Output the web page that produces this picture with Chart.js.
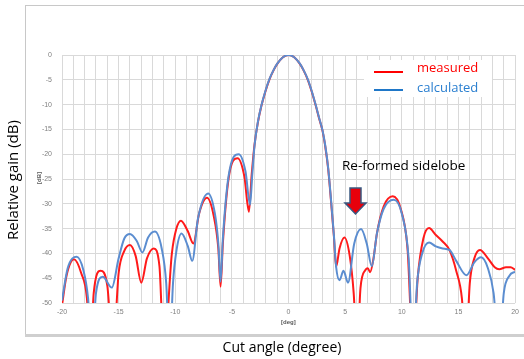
<!DOCTYPE html>
<html>
<head>
<meta charset="utf-8">
<script src="https://cdn.jsdelivr.net/npm/chart.js@4.4.0/dist/chart.umd.min.js"></script>
<style>
   html, body { margin: 0; padding: 0; background: #fff; }
</style>
</head>
<body>
<canvas id="myChart" width="524" height="359"></canvas>
<script>
//measured pattern (red), angle in degree and relative gain in dB
var measuredAngle = [-20, -19.6, -18.94, -18.3, -17.8, -17.5, -17.2, -16.6, -16.0, -15.5, -15.0, -14.5, -14.0, -13.5, -13.0, -12.5, -11.9, -11.4, -11.0, -10.3, -9.9, -9.5, -8.9, -8.4, -7.9, -7.2, -6.6, -6.2, -6.0, -5.8, -5.3, -4.5, -3.9, -3.5, -3.25, -3.0, -2.7, -2.4, -2.05, -1.7, -1.35, -1.0, -0.5, 0, 0.5, 1.0, 1.35, 1.7, 2.05, 2.4, 2.7, 3.0, 3.25, 3.5, 3.75, 4.0, 4.2, 4.5, 4.93, 5.4, 5.75, 6.05, 6.35, 6.8, 7.0, 7.2, 7.5, 7.8, 8.4, 9.2, 9.9, 10.5, 11.0, 11.4, 11.9, 12.4, 13.0, 13.6, 14.2, 14.8, 15.3, 15.65, 16.0, 16.4, 16.9, 17.6, 18.2, 18.6, 19.2, 19.6, 20];
var measuredGain = [-50.5, -44.5, -41.2, -44, -49, -60, -48, -43.5, -46.5, -60, -44, -39.5, -38.3, -40.5, -45.9, -41, -39.0, -42.5, -60, -40, -35, -33.4, -35.5, -38.0, -32, -28.8, -32.5, -39, -46.7, -38, -25, -20.8, -24.5, -31.6, -24, -18, -13.5, -10.3, -7.4, -5, -3.2, -1.8, -0.45, 0, -0.45, -1.8, -3.2, -5, -7.4, -10.2, -12.8, -15.3, -18.6, -23, -29.5, -36.5, -42.7, -39, -36.8, -40.5, -48, -60, -47, -43.3, -43.0, -43.8, -41, -36, -30.5, -28.5, -31, -39, -60, -45, -37, -34.9, -36.3, -37.6, -39.3, -43.5, -49, -60, -46, -41, -39.3, -41, -42.8, -43.2, -42.8, -42.8, -43.3];

//calculated pattern (blue)
var calculatedAngle = [-20, -19.5, -18.7, -18.1, -17.7, -17.35, -17.0, -16.4, -15.6, -15.0, -14.5, -14.0, -13.4, -12.9, -12.4, -11.8, -11.2, -10.8, -10.5, -10.2, -9.9, -9.45, -8.9, -8.5, -8.0, -7.1, -6.5, -6.2, -6.0, -5.8, -5.3, -4.4, -3.8, -3.4, -3.2, -3.0, -2.7, -2.4, -2.05, -1.7, -1.35, -1.0, -0.5, 0, 0.5, 1.0, 1.35, 1.7, 2.05, 2.4, 2.7, 3.0, 3.25, 3.5, 3.75, 4.0, 4.2, 4.5, 4.85, 5.25, 5.8, 6.4, 6.9, 7.35, 7.8, 8.4, 9.3, 10.0, 10.6, 11.0, 11.35, 11.8, 12.4, 13.0, 13.6, 14.2, 14.8, 15.7, 16.4, 17.0, 17.6, 18.1, 18.6, 19.0, 19.5, 20];
var calculatedGain = [-49.5, -43, -40.7, -43.5, -49, -60, -48, -44.7, -46.9, -41, -37, -36.1, -37.5, -39.8, -36.8, -35.6, -39, -46, -60, -46, -39.5, -36, -38.5, -41.5, -33, -27.9, -32, -38, -45.7, -37, -24.5, -20.0, -23.5, -30.2, -24, -18.2, -13.4, -10.2, -7.3, -4.9, -3.15, -1.75, -0.45, 0, -0.45, -1.75, -3.15, -4.9, -7.3, -10.1, -12.7, -15.2, -18.4, -22.8, -29.2, -36.2, -42.7, -45.4, -43.5, -45.9, -38, -35.1, -38, -42.6, -36, -31, -29.2, -32, -41, -60, -46, -40, -37.8, -38.6, -39, -39.3, -41.5, -44.4, -41.8, -40.8, -43, -48, -60, -48, -44.5, -43.7];

//legend names
var seriesNames = ['measured', 'calculated'];

//make {x, y} points from two arrays
function toPoints(xs, ys){
   var pts = [];
   for (var i = 0; i < xs.length; i++) {
      pts.push({x: xs[i], y: ys[i]});
   }
   return pts;
}

//plugin for the frame, axis titles, legend and the annotation
var decorations = {
   id: 'decorations',
   beforeDraw: function(chart){
      var c = chart.ctx;
      c.save();
      c.strokeStyle = '#c8c8c8';
      c.lineWidth = 1;
      c.strokeRect(25.5, 5.5, 520, 329);
      c.fillStyle = '#cfcfcf';
      c.fillRect(25, 334, 499, 3);
      c.restore();
   },
   afterDraw: function(chart){
      var c = chart.ctx;
      c.save();
      //small unit labels
      c.fillStyle = '#595959';
      c.font = 'bold 6px "Liberation Sans"';
      c.textAlign = 'left';
      c.textBaseline = 'middle';
      c.fillText('[deg]', 281, 322);
      c.save();
      c.translate(39, 178);
      c.rotate(-Math.PI / 2);
      c.textAlign = 'center';
      c.fillText('[dB]', 0, 0);
      c.restore();

      //axis titles
      c.fillStyle = '#000';
      c.font = '14px "Open Sans"';
      c.textAlign = 'center';
      c.fillText('Cut angle (degree)', 282, 348);
      c.save();
      c.translate(14, 180);
      c.rotate(-Math.PI / 2);
      c.font = '15px "Open Sans"';
      c.fillText('Relative gain (dB)', 0, 0);
      c.restore();

      //legend
      c.fillStyle = '#fff';
      c.fillRect(364, 60, 128, 37);
      c.lineWidth = 2;
      c.strokeStyle = '#ff0000';
      c.beginPath(); c.moveTo(374, 72); c.lineTo(403, 72); c.stroke();
      c.strokeStyle = '#1f77c8';
      c.beginPath(); c.moveTo(374, 90); c.lineTo(403, 90); c.stroke();
      c.font = '13px "Open Sans"';
      c.textAlign = 'left';
      c.fillStyle = '#ff0000';
      c.fillText(seriesNames[0], 417, 68);
      c.fillStyle = '#2a7fd0';
      c.fillText(seriesNames[1], 417, 88);

      //annotation text
      c.fillStyle = '#000';
      c.font = '13.5px "Open Sans"';
      c.fillText('Re-formed sidelobe', 342, 166);

      //red arrow pointing down
      c.beginPath();
      c.moveTo(350, 188);
      c.lineTo(361, 188);
      c.lineTo(361, 203);
      c.lineTo(366, 203);
      c.lineTo(355.5, 214);
      c.lineTo(345, 203);
      c.lineTo(350, 203);
      c.closePath();
      c.fillStyle = '#e8000b';
      c.fill();
      c.strokeStyle = '#3a5880';
      c.lineWidth = 1.5;
      c.stroke();
      c.restore();
   }
};

var ctx = document.getElementById('myChart').getContext('2d');
var chart = new Chart(ctx, {
   type: 'scatter',
   data: {
      datasets: [{
         label: seriesNames[1],
         data: toPoints(calculatedAngle, calculatedGain),
         showLine: true,
         borderColor: '#5b8dd0',
         borderWidth: 2,
         pointRadius: 0,
         cubicInterpolationMode: 'monotone'
      }, {
         label: seriesNames[0],
         data: toPoints(measuredAngle, measuredGain),
         showLine: true,
         borderColor: '#ff1a1a',
         borderWidth: 2,
         pointRadius: 0,
         cubicInterpolationMode: 'monotone'
      }]
   },
   options: {
      responsive: false,
      animation: false,
      layout: { padding: { left: 25, top: 55, right: 7, bottom: 36 } },
      plugins: { legend: { display: false }, tooltip: { enabled: false } },
      scales: {
         x: {
            type: 'linear',
            min: -20,
            max: 20,
            afterFit: function(scale){ scale.height = 20; },
            border: { display: false },
            grid: { color: '#d9d9d9', drawTicks: false },
            ticks: {
               stepSize: 1,
               autoSkip: false,
               maxRotation: 0,
               padding: 5,
               color: '#7f7f7f',
               font: { size: 7, family: 'Liberation Sans' },
               callback: function(v){ return v % 5 === 0 ? String(v) : ''; }
            }
         },
         y: {
            min: -50,
            max: 0,
            afterFit: function(scale){ scale.width = 37; },
            border: { display: false },
            grid: { color: '#d9d9d9', drawTicks: false },
            ticks: {
               stepSize: 5,
               padding: 10,
               color: '#7f7f7f',
               font: { size: 7, family: 'Liberation Sans' }
            }
         }
      }
   },
   plugins: [decorations]
});
</script>
</body>
</html>
